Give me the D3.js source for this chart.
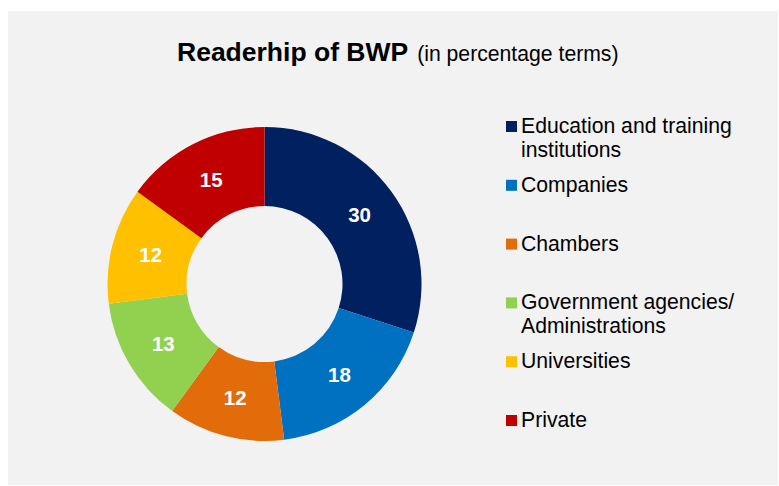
<!DOCTYPE html>
<html>
<head>
  <meta charset="utf-8">
  <title>Readership of BWP</title>
  <script src="https://d3js.org/d3.v7.min.js"></script>
  <style>
    body { margin: 0; background: #ffffff; }
    svg { display: block; font-family: 'Liberation Sans', Arial, sans-serif; }
  </style>
</head>
<body>
<script>
  // data
  var categories = ["Education and training institutions", "Companies", "Chambers",
    "Government agencies/ Administrations", "Universities", "Private"];
  var values = [30, 18, 12, 13, 12, 15];
  var colors = ["#002060", "#0070c0", "#e36c0a", "#92d050", "#ffc000", "#c00000"];
  // legend lines (wrapped as in the original)
  var legendLines = [["Education and training", "institutions"], ["Companies"], ["Chambers"],
    ["Government agencies/", "Administrations"], ["Universities"], ["Private"]];

  var width = 779, height = 486;
  var svg = d3.select("body").append("svg")
    .attr("width", width)
    .attr("height", height);

  // grey panel
  svg.append("rect")
    .attr("x", 8).attr("y", 11)
    .attr("width", 770).attr("height", 474)
    .attr("fill", "#f2f2f2");

  // title
  var title = svg.append("text")
    .attr("x", 177).attr("y", 61)
    .attr("fill", "#000");
  title.append("tspan")
    .attr("font-weight", "bold")
    .attr("font-size", "26.5px")
    .text("Readerhip of BWP");
  title.append("tspan")
    .attr("font-size", "21.2px")
    .attr("dx", "9")
    .text("(in percentage terms)");

  // donut
  var cx = 264.5, cy = 284, outerR = 157, innerR = 78;
  var pie = d3.pie().sort(null).value(function (d) { return d; });
  var arc = d3.arc().innerRadius(innerR).outerRadius(outerR);
  var g = svg.append("g").attr("transform", "translate(" + cx + "," + cy + ")");

  var arcs = pie(values);
  g.selectAll("path")
    .data(arcs)
    .enter()
    .append("path")
    .attr("d", arc)
    .attr("fill", function (d, i) { return colors[i]; });

  g.selectAll("text")
    .data(arcs)
    .enter()
    .append("text")
    .attr("transform", function (d) { return "translate(" + arc.centroid(d) + ")"; })
    .attr("text-anchor", "middle")
    .attr("dy", "0.36em")
    .attr("fill", "#fff")
    .attr("font-weight", "bold")
    .attr("font-size", "20.5px")
    .text(function (d) { return d.data; });

  // legend
  var legendY = d3.scalePoint().domain(d3.range(categories.length)).range([133, 427]);
  var legend = svg.append("g");
  var items = legend.selectAll("g")
    .data(categories)
    .enter()
    .append("g")
    .attr("transform", function (d, i) { return "translate(506," + legendY(i) + ")"; });

  items.append("rect")
    .attr("x", 0).attr("y", -12)
    .attr("width", 11).attr("height", 11)
    .attr("fill", function (d, i) { return colors[i]; });

  items.append("text")
    .attr("x", 15)
    .attr("font-size", "21.2px")
    .attr("fill", "#000")
    .selectAll("tspan")
    .data(function (d, i) { return legendLines[i]; })
    .enter()
    .append("tspan")
    .attr("x", 15)
    .attr("dy", function (d, j) { return j === 0 ? 0 : 23.5; })
    .text(function (d) { return d; });
</script>
</body>
</html>
